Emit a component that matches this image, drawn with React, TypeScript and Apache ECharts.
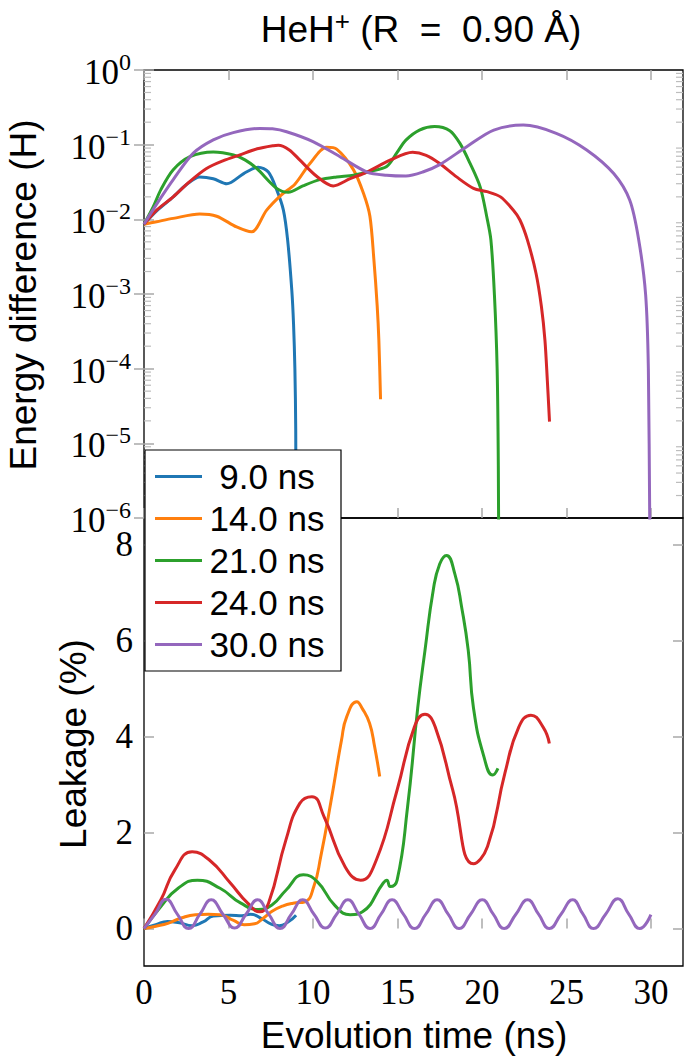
import React, { useEffect, useRef } from "react";
import * as echarts from "echarts";

// ---------- data ----------
const seriesNames = ["9.0 ns", "14.0 ns", "21.0 ns", "24.0 ns", "30.0 ns"];
const seriesColors = ["#1f77b4", "#ff7f0e", "#2ca02c", "#d62728", "#9467bd"];

const xTickValues = [0, 5, 10, 15, 20, 25, 30];
const leakTickValues = [0, 2, 4, 6, 8];
const minorLogTicks = [
  2e-6, 3e-6, 4e-6, 5e-6, 6e-6, 7e-6, 8e-6, 9e-6,
  2e-5, 3e-5, 4e-5, 5e-5, 6e-5, 7e-5, 8e-5, 9e-5,
  2e-4, 3e-4, 4e-4, 5e-4, 6e-4, 7e-4, 8e-4, 9e-4,
  2e-3, 3e-3, 4e-3, 5e-3, 6e-3, 7e-3, 8e-3, 9e-3,
  2e-2, 3e-2, 4e-2, 5e-2, 6e-2, 7e-2, 8e-2, 9e-2,
  0.2, 0.3, 0.4, 0.5, 0.6, 0.7, 0.8, 0.9,
];

// Energy difference (H) vs time (ns)
const energy9 = [
  [0, 0.0086], [0.75, 0.013], [1.73, 0.02], [2.5, 0.029], [3.3, 0.037], [4.1, 0.035],
  [4.9, 0.03], [5.9, 0.041], [6.76, 0.05], [7.36, 0.043], [7.85, 0.025], [8.25, 0.0133],
  [8.5, 0.0053], [8.75, 0.0011], [8.85, 4e-4], [8.93, 1e-4], [8.98, 1.5e-5], [9.0, 1e-7],
];
const energy14 = [
  [0, 0.0086], [0.75, 0.0093], [1.73, 0.0103], [3.3, 0.0118], [4.3, 0.011], [5.48, 0.0079],
  [6.37, 0.0068], [7.26, 0.0133], [8.1, 0.021], [8.93, 0.0296], [9.82, 0.056], [10.8, 0.092],
  [11.4, 0.087], [12.4, 0.046], [13.0, 0.022], [13.37, 0.011], [13.6, 0.003], [13.8, 7e-4],
  [13.9, 2.4e-4], [14.0, 3.9e-5],
];
const energy21 = [
  [0, 0.0086], [0.55, 0.0148], [1.0, 0.025], [1.73, 0.046], [2.72, 0.069], [4.1, 0.08],
  [5.3, 0.073], [6.0, 0.062], [6.67, 0.048], [7.85, 0.026], [8.54, 0.023], [9.4, 0.028],
  [10.4, 0.034], [11.4, 0.037], [12.4, 0.039], [13.4, 0.044], [14.36, 0.051], [14.95, 0.077],
  [15.5, 0.115], [16.3, 0.157], [17.2, 0.175], [18.1, 0.154], [18.7, 0.104], [19.3, 0.056],
  [19.9, 0.027], [20.28, 0.011], [20.53, 0.0053], [20.74, 9.7e-4], [20.9, 1e-4],
  [20.97, 5e-6], [21.0, 1e-7],
];
const energy24 = [
  [0, 0.0086], [0.75, 0.0133], [1.73, 0.02], [2.7, 0.032], [3.7, 0.048], [4.7, 0.061],
  [5.68, 0.073], [6.7, 0.088], [7.65, 0.097], [7.95, 0.098], [8.6, 0.085], [9.23, 0.062],
  [10.2, 0.038], [11.2, 0.028], [12.2, 0.035], [13.2, 0.043], [14.56, 0.062], [15.9, 0.079],
  [16.7, 0.072], [17.5, 0.056], [18.5, 0.037], [19.5, 0.026], [20.3, 0.0235], [21.1, 0.02],
  [21.85, 0.0133], [22.25, 0.0098], [22.69, 0.0053], [23.2, 1.9e-3], [23.52, 6.8e-4],
  [23.73, 2.4e-4], [23.87, 7e-5], [24.0, 1.95e-5],
];
const energy30 = [
  [0, 0.0086], [0.75, 0.016], [1.73, 0.034], [2.92, 0.077], [4.1, 0.116], [5.28, 0.145],
  [6.86, 0.165], [7.6, 0.163], [8.44, 0.149], [10.0, 0.11], [11.6, 0.069], [13.2, 0.043],
  [14.36, 0.039], [15.5, 0.038], [16.5, 0.043], [17.5, 0.054], [19.1, 0.094], [20.7, 0.157],
  [22.45, 0.183], [24.4, 0.142], [26.2, 0.085], [27.8, 0.041], [28.75, 0.018], [29.28, 0.0053],
  [29.69, 9.7e-4], [29.85, 1e-4], [29.93, 1e-6], [30.0, 1e-7],
];

// Leakage (%) vs time (ns)
const leak9 = [
  [0, 0], [0.7, 0.08], [1.4, 0.15], [2.1, 0.12], [2.85, 0.06], [3.5, 0.14], [4.1, 0.26],
  [5.1, 0.28], [5.8, 0.27], [6.3, 0.3], [7.0, 0.2], [7.5, 0.1], [8.0, 0.06], [8.5, 0.13], [9.0, 0.28],
];
const leak14 = [
  [0, 0], [0.7, 0.05], [1.41, 0.11], [2.2, 0.22], [3.05, 0.29], [3.8, 0.3], [4.5, 0.29],
  [5.3, 0.17], [5.93, 0.08], [6.55, 0.1], [7.0, 0.2], [7.58, 0.36], [8.2, 0.47], [8.82, 0.53],
  [9.53, 0.56], [10.05, 0.875], [10.46, 1.5], [11.08, 2.68], [11.69, 3.93], [12.0, 4.42],
  [12.6, 4.73], [12.9, 4.6], [13.35, 4.28], [13.65, 3.79], [13.95, 3.17],
];
const leak21 = [
  [0, 0], [1.0, 0.46], [2.02, 0.84], [3.16, 1.01], [4.5, 0.84], [5.73, 0.53], [6.76, 0.4],
  [7.57, 0.49], [8.4, 0.8], [9.43, 1.12], [10.25, 0.98], [11.28, 0.49], [12.2, 0.29],
  [12.93, 0.35], [14.16, 0.95], [14.37, 1.01], [14.57, 0.875], [14.98, 1.01], [15.6, 2.54],
  [16.2, 4.6], [16.63, 5.8], [17.12, 7.06], [17.5, 7.6], [17.9, 7.78], [18.4, 7.39],
  [18.8, 6.7], [19.19, 5.8], [19.5, 4.6], [20.12, 3.58], [20.64, 3.2], [20.95, 3.34],
];
const leak24 = [
  [0, 0], [1.0, 0.6], [1.82, 1.22], [2.85, 1.6], [3.87, 1.43], [5.11, 0.95], [6.14, 0.53],
  [6.86, 0.35], [7.37, 0.53], [8.4, 1.85], [9.22, 2.61], [9.94, 2.75], [10.66, 2.33],
  [11.9, 1.29], [12.82, 1.01], [13.75, 1.43], [14.98, 2.89], [16.0, 4.2], [16.63, 4.47],
  [17.24, 4.2], [18.27, 2.89], [19.5, 1.35], [20.33, 1.71], [21.36, 3.24], [22.18, 4.2],
  [22.9, 4.45], [23.62, 4.2], [23.99, 3.86],
];
const leak30 = [
  [0, 0], [0.65, 0.3], [1.31, 0.61], [1.97, 0.3], [2.64, 0.0], [3.31, 0.3], [3.98, 0.6],
  [4.67, 0.3], [5.36, 0.01], [6.04, 0.3], [6.72, 0.6], [7.38, 0.3], [8.05, 0.0], [8.72, 0.3],
  [9.39, 0.6], [10.06, 0.3], [10.73, 0.01], [11.4, 0.3], [12.07, 0.6], [12.72, 0.3],
  [13.38, 0.0], [14.03, 0.3], [14.68, 0.6], [15.35, 0.3], [16.01, 0.0], [16.68, 0.3],
  [17.35, 0.6], [18.0, 0.3], [18.65, 0.0], [19.33, 0.3], [20.02, 0.6], [20.67, 0.3],
  [21.32, 0.0], [22.01, 0.3], [22.7, 0.6], [23.35, 0.3], [23.99, 0.0], [24.68, 0.3],
  [25.37, 0.6], [25.98, 0.3], [26.6, 0.0], [27.32, 0.3], [28.04, 0.62], [28.69, 0.3],
  [29.34, 0.0], [30.0, 0.29],
];

const energyData = [energy9, energy14, energy21, energy24, energy30];
const leakData = [leak9, leak14, leak21, leak24, leak30];

// ---------- layout ----------
const X_MIN = 0;
const X_MAX = 31.9;
const LEAK_MIN = -0.78;
const LEAK_MAX = 8.56;
const TICK_COLOR = "#a8a8a8";
const SERIF = "'Liberation Serif', 'DejaVu Serif', serif";
const SANS = "'Liberation Sans', 'DejaVu Sans', sans-serif";

function supText(exp: number) {
  return exp < 0 ? "\u2212" + String(-exp) : String(exp);
}

export default function App() {
  const ref = useRef<HTMLDivElement>(null);

  useEffect(() => {
    if (!ref.current) return;
    const chart = echarts.init(ref.current, null, { renderer: "svg" });

    const tickStyle = { color: TICK_COLOR, width: 1.5 };
    const xBase = (gridIndex: number, position: string, showLabel: boolean) => ({
      type: "value",
      gridIndex,
      position,
      min: X_MIN,
      max: X_MAX,
      axisLine: { show: false },
      splitLine: { show: false },
      axisTick: { show: true, inside: true, length: 10, lineStyle: tickStyle, customValues: xTickValues },
      axisLabel: {
        show: showLabel,
        customValues: xTickValues,
        fontFamily: SERIF,
        fontSize: 35,
        lineHeight: 36,
        color: "#000",
        margin: 8,
      },
    });

    const logAxis = (position: string, showLabel: boolean) => ({
      type: "log",
      logBase: 10,
      gridIndex: 0,
      position,
      min: 1e-6,
      max: 1,
      axisLine: { show: false },
      splitLine: { show: false },
      minorTick: { show: false },
      axisTick: { show: true, inside: true, length: 10, lineStyle: tickStyle },
      axisLabel: {
        show: showLabel,
        margin: 13,
        formatter: (v: number) => {
          const e = Math.round(Math.log10(v));
          return "{b|10}{s|" + supText(e) + "}";
        },
        rich: {
          b: { fontFamily: SERIF, fontSize: 35, lineHeight: 40, verticalAlign: "bottom", color: "#000" },
          s: { fontFamily: SERIF, fontSize: 24, lineHeight: 18, verticalAlign: "top", color: "#000" },
        },
      },
    });

    const leakAxis = (position: string, showLabel: boolean) => ({
      type: "value",
      gridIndex: 1,
      position,
      min: LEAK_MIN,
      max: LEAK_MAX,
      axisLine: { show: false },
      splitLine: { show: false },
      axisTick: { show: true, inside: true, length: 10, lineStyle: tickStyle, customValues: leakTickValues },
      axisLabel: {
        show: showLabel,
        customValues: leakTickValues,
        fontFamily: SERIF,
        fontSize: 35,
        color: "#000",
        margin: 11,
      },
    });

    const lineSeries = (i: number, data: number[][], xi: number, yi: number, smooth: number) => ({
      type: "line",
      name: seriesNames[i],
      data,
      xAxisIndex: xi,
      yAxisIndex: yi,
      symbol: "none",
      smooth,
      clip: true,
      lineStyle: { color: seriesColors[i], width: 3 },
      itemStyle: { color: seriesColors[i] },
      emphasis: { disabled: true },
    });

    const series: any[] = [];
    energyData.forEach((d, i) => series.push(lineSeries(i, d, 0, 0, 0.3)));
    leakData.forEach((d, i) => series.push(lineSeries(i, d, 2, 2, 0.5)));
    series.push({
      type: "custom",
      xAxisIndex: 0,
      yAxisIndex: 0,
      silent: true,
      clip: false,
      data: minorLogTicks.map((v) => [X_MIN, v]),
      renderItem: (_params: any, api: any) => {
        const v = api.value(1);
        const p0 = api.coord([X_MIN, v]);
        const p1 = api.coord([X_MAX, v]);
        const st = { stroke: "#bdbdbd", lineWidth: 1.2 };
        return {
          type: "group",
          children: [
            { type: "line", shape: { x1: p0[0], y1: p0[1], x2: p0[0] + 7, y2: p0[1] }, style: st },
            { type: "line", shape: { x1: p1[0] - 7, y1: p1[1], x2: p1[0], y2: p1[1] }, style: st },
          ],
        };
      },
    });

    const option: any = {
      animation: false,
      grid: [
        { left: 144, top: 70, width: 539, height: 448, show: true, borderColor: "#000", borderWidth: 1.3, backgroundColor: "transparent" },
        { left: 144, top: 518, width: 539, height: 448, show: true, borderColor: "#000", borderWidth: 1.3, backgroundColor: "transparent" },
      ],
      xAxis: [
        xBase(0, "bottom", false),
        xBase(0, "top", false),
        xBase(1, "bottom", true),
      ],
      yAxis: [
        logAxis("left", true),
        logAxis("right", false),
        leakAxis("left", true),
        leakAxis("right", false),
      ],
      legend: {
        data: seriesNames,
        orient: "vertical",
        left: 145,
        top: 450,
        backgroundColor: "#fff",
        borderColor: "#000",
        borderWidth: 1.2,
        borderRadius: 0,
        padding: [9, 14, 9, 10],
        itemGap: 7,
        itemWidth: 47,
        itemHeight: 3,
        icon: "rect",
        selectedMode: false,
        formatter: (n: string) => "{c|" + n + "}",
        textStyle: {
          rich: {
            c: { width: 120, align: "center", fontFamily: SANS, fontSize: 35, lineHeight: 36, color: "#000" },
          },
        },
      },
      graphic: [
        {
          type: "text",
          x: 421,
          y: 28,
          style: {
            text: "{a|HeH}{s|+}{a| (R  =  0.90 \u00c5)}",
            align: "center",
            verticalAlign: "middle",
            rich: {
              a: { fontFamily: SANS, fontSize: 37, lineHeight: 40, verticalAlign: "bottom", fill: "#000" },
              s: { fontFamily: SANS, fontSize: 26, lineHeight: 18, verticalAlign: "top", fill: "#000" },
            },
          },
        },
        {
          type: "text",
          x: 23,
          y: 295,
          rotation: Math.PI / 2,
          style: { text: "Energy difference (H)", align: "center", verticalAlign: "middle", font: `37px ${SANS}`, fill: "#000" },
        },
        {
          type: "text",
          x: 73,
          y: 744,
          rotation: Math.PI / 2,
          style: { text: "Leakage (%)", align: "center", verticalAlign: "middle", font: `37px ${SANS}`, fill: "#000" },
        },
        {
          type: "text",
          x: 414,
          y: 1035,
          style: { text: "Evolution time (ns)", align: "center", verticalAlign: "middle", font: `37px ${SANS}`, fill: "#000" },
        },
      ],
      series,
    };

    chart.setOption(option);
    return () => chart.dispose();
  }, []);

  return (
    <div
      ref={ref}
      style={{ position: "absolute", left: 0, top: 0, width: 685, height: 1058, background: "#fff" }}
    />
  );
}
